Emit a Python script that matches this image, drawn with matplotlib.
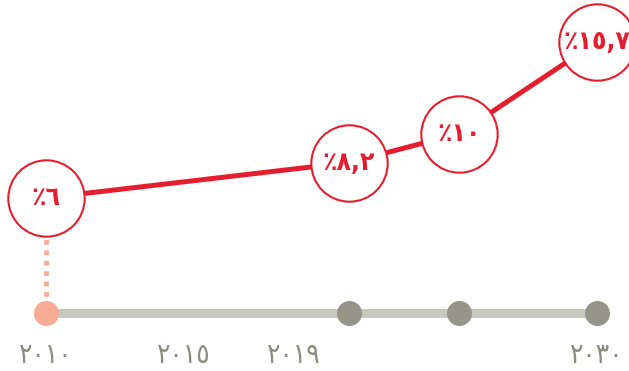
import matplotlib
matplotlib.use("Agg")
import matplotlib.pyplot as plt

# Data
years = [2010, 2021, 2025, 2030]
values = [6, 8.2, 10, 15.7]
value_labels = ["٪٦", "٪٨,٢", "٪١٠", "٪١٥,٧"]
tick_years = [2010, 2015, 2019, 2030]
tick_labels = ["٢٠١٠", "٢٠١٥", "٢٠١٩", "٢٠٣٠"]

RED = "#E41E2E"
SALMON = "#F7AB94"
BAR = "#C7C8BE"
DOT = "#96958A"
TICK = "#8C8B7E"

plt.rcParams['font.family'] = ['DejaVu Sans']

fig = plt.figure(figsize=(6.29, 3.71), dpi=100)
ax = fig.add_axes([0, 0.1563, 1, 0.8437])
ax.set_xlim(2008.33, 2031.16)
ax.set_ylim(-1.15, 18.30)
for s in ax.spines.values():
    s.set_visible(False)
ax.set_yticks([])
ax.set_xticks(tick_years)
ax.set_xticklabels(tick_labels, fontsize=20, color=TICK, fontweight='light',
                   fontstretch='condensed')
ax.tick_params(axis='x', length=0, pad=20)

xt = ax.get_xaxis_transform()
# baseline bar
ax.plot([years[0], years[-1]], [0, 0], transform=xt, color=BAR, lw=6.5,
        solid_capstyle='butt', clip_on=False, zorder=1)
# baseline dots
ax.plot(years[:1], [0], transform=xt, marker='o', ms=17, color=SALMON,
        ls='none', clip_on=False, zorder=3)
ax.plot(years[1:], [0] * 3, transform=xt, marker='o', ms=17, color=DOT,
        ls='none', clip_on=False, zorder=3)

# dotted connector from first value down to baseline
ax.plot([years[0], years[0]], [values[0], ax.get_ylim()[0]], color=SALMON,
        lw=3.4, ls=(0, (1, 1.2)), solid_capstyle='butt', dash_capstyle='butt',
        zorder=2, clip_on=False)

# main line
ax.plot(years, values, color=RED, lw=3.6, zorder=4, solid_capstyle='butt')
# circles
ax.plot(years, values, marker='o', ms=55, mfc='white', mec=RED, mew=1.5,
        ls='none', zorder=5, clip_on=False)
for x, v, lab in zip(years, values, value_labels):
    ax.text(x, v, lab, ha='center', va='center', fontsize=19, color=RED,
            fontweight='bold', fontstretch='condensed', zorder=6)

fig.savefig("out.png", dpi=100)
